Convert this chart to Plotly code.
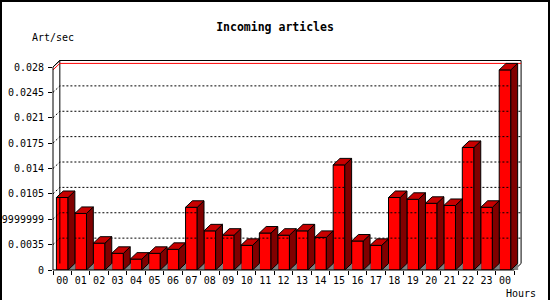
import plotly.graph_objects as go

# ---------------- data ----------------
hours = ["00", "01", "02", "03", "04", "05", "06", "07", "08", "09", "10", "11",
         "12", "13", "14", "15", "16", "17", "18", "19", "20", "21", "22", "23", "00"]
values = [0.0100, 0.0078, 0.0037, 0.0023, 0.0015, 0.0023, 0.00285, 0.00865,
          0.0054, 0.0048, 0.0034, 0.0051, 0.0048, 0.0054, 0.0045, 0.0145,
          0.0040, 0.0034, 0.0100, 0.00975, 0.0092, 0.0089, 0.0169, 0.00865, 0.0276]
y_ticks = [0, 0.0035, 0.007, 0.0105, 0.014, 0.0175, 0.021, 0.0245, 0.028]
y_tick_text = ["0", "0.0035", "0.00699999999", "0.0105", "0.014", "0.0175",
               "0.021", "0.0245", "0.028"]

# ---------------- geometry (3D look) ----------------
n = len(values)
BAR_W = 0.63
DX = 0.37
YMAX = y_ticks[-1]
DY = YMAX / 203 * 6.5
x_left = -0.5
x_front_right = n - 0.5
wall_right = x_front_right + DX

FONT = "DejaVu Sans Mono"
RED = "#FF0000"
TOP = "#C80000"
SIDE = "#800000"

fig = go.Figure()


def poly_trace(polys, fill, line_color="black"):
    xs, ys = [], []
    for p in polys:
        for (a, b) in p:
            xs.append(a)
            ys.append(b)
        xs.append(p[0][0])
        ys.append(p[0][1])
        xs.append(None)
        ys.append(None)
    return go.Scatter(x=xs, y=ys, mode="lines", fill="toself", fillcolor=fill,
                      line=dict(color=line_color, width=1), hoverinfo="skip",
                      showlegend=False)


def line_trace(xs, ys, color="black", dash="solid"):
    return go.Scatter(x=xs, y=ys, mode="lines", line=dict(color=color, width=1, dash=dash),
                      hoverinfo="skip", showlegend=False)


# back-wall grid lines (dotted) with diagonal from front axis
gx, gy = [], []
for v in y_ticks[1:-1]:
    gx += [x_left, x_left + DX, wall_right, None]
    gy += [v, v + DY, v + DY, None]
fig.add_trace(line_trace(gx, gy, dash="2px,2px"))

# back wall outline
fig.add_trace(line_trace([x_left, x_left + DX, wall_right, wall_right],
                         [YMAX, YMAX + DY, YMAX + DY, DY]))
fig.add_trace(line_trace([x_left + DX, x_left + DX], [DY, YMAX + DY]))
fig.add_trace(line_trace([x_front_right, wall_right], [0, DY]))

# max line (red)
vmax = max(values)
fig.add_trace(line_trace([x_left, x_left + DX, wall_right],
                         [vmax, vmax + DY, vmax + DY], color=RED))

# bars: shadow, side, top
shadows, sides, tops = [], [], []
for i, v in enumerate(values):
    xl = i - BAR_W / 2
    xr = i + BAR_W / 2
    shadows.append([(xr, 0), (xr + DX, DY), (xr + DX, 0)])
    sides.append([(xr, 0), (xr, v), (xr + DX, v + DY), (xr + DX, DY)])
    tops.append([(xl, v), (xr, v), (xr + DX, v + DY), (xl + DX, v + DY)])

fig.add_trace(poly_trace(shadows, "#808080", line_color="#808080"))
fig.add_trace(poly_trace(sides, SIDE))
fig.add_trace(poly_trace(tops, TOP))

# front faces
fig.add_trace(go.Bar(x=list(range(n)), y=values, width=BAR_W,
                     marker=dict(color=RED, line=dict(color="black", width=1)),
                     hoverinfo="skip", showlegend=False))

# front axis + front floor edge
fig.add_shape(type="line", xref="paper", yref="y", x0=0, x1=0, y0=0, y1=YMAX,
              line=dict(color="black", width=1))
fig.add_shape(type="line", xref="x", yref="paper", x0=x_left, x1=x_front_right, y0=0, y1=0,
              line=dict(color="black", width=1))
fig.add_trace(line_trace([x_left, x_left + DX], [YMAX, YMAX + DY]))

# plot area geometry
L, R, T, B = 53, 26, 57, 30
plot_w = 550 - L - R
plot_h = 300 - T - B
x_range = [x_left, x_left + plot_w / 18.45]
y_top = YMAX / 203 * plot_h

# outer frame
fig.add_shape(type="rect", xref="paper", yref="paper",
              x0=(1 - L) / plot_w, x1=(549 - L) / plot_w,
              y0=(B - 299) / plot_h, y1=(300 - 1 - B) / plot_h,
              line=dict(color="black", width=2), fillcolor="rgba(0,0,0,0)")

fig.update_layout(
    width=550, height=300,
    margin=dict(l=L, r=R, t=T, b=B, pad=0),
    paper_bgcolor="white", plot_bgcolor="white",
    showlegend=False,
    barmode="overlay",
    title=dict(text="<b>Incoming articles</b>", x=0.5, xref="container", xanchor="center",
               y=1 - 27 / 300, yref="container", yanchor="middle",
               font=dict(family=FONT, size=11.5, color="black")),
    xaxis=dict(range=x_range, showgrid=False, zeroline=False, showline=False,
               tickmode="array", tickvals=list(range(n)), ticktext=hours,
               ticks="", ticklabelstandoff=3,
               tickfont=dict(family=FONT, size=10, color="black"),
               minor=dict(tickmode="array", tickvals=[i - 0.5 for i in range(n + 1)],
                          ticks="outside", ticklen=4, tickcolor="black", tickwidth=1,
                          showgrid=False),
               automargin=False, fixedrange=True),
    yaxis=dict(range=[0, y_top], showgrid=False, zeroline=False, showline=False,
               tickmode="array", tickvals=y_ticks, ticktext=y_tick_text,
               ticks="outside", ticklen=4, tickcolor="black", tickwidth=1,
               ticklabelstandoff=2,
               tickfont=dict(family=FONT, size=10, color="black"),
               automargin=False, fixedrange=True),
    annotations=[
        dict(text="Art/sec", xref="paper", yref="paper", x=(30 - L) / plot_w,
             y=(300 - B - 37) / plot_h, xanchor="left", yanchor="middle", showarrow=False,
             font=dict(family=FONT, size=10, color="black")),
        dict(text="Hours", xref="paper", yref="paper", x=(504 - L) / plot_w,
             y=(300 - B - 293) / plot_h, xanchor="left", yanchor="middle", showarrow=False,
             font=dict(family=FONT, size=10, color="black")),
    ],
)

fig.write_html("out.html")
